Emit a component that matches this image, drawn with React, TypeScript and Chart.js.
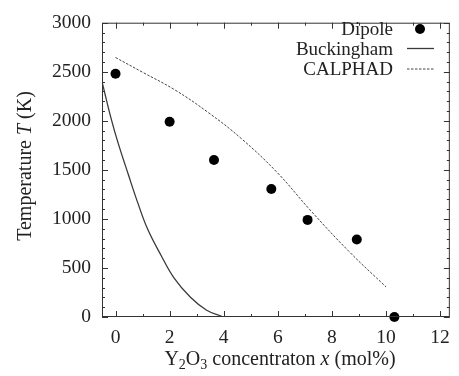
import React, { useEffect, useRef } from "react";
import { Chart, registerables } from "chart.js";

Chart.register(...registerables);

// Dipole (points)
const dipoleX = [0, 2, 3.64, 5.76, 7.1, 8.92, 10.31];
const dipoleT = [2480, 1990, 1600, 1305, 990, 790, 0];

// Buckingham (solid curve)
const buckX = [-0.5, -0.16, 0.1, 0.47, 0.83, 1.19, 1.68, 2.16, 2.77, 3.37, 3.98];
const buckT = [2400, 2020, 1770, 1455, 1158, 894, 630, 399, 201, 69, 0];

// CALPHAD (dashed curve)
const calX = [0, 1.0, 2.2, 3.44, 4.65, 5.98, 7.19, 8.65, 10.0];
const calT = [2645, 2495, 2314, 2082, 1819, 1472, 1092, 663, 307];

const xTicks = [0, 2, 4, 6, 8, 10, 12];
const yTicks = [0, 500, 1000, 1500, 2000, 2500, 3000];
const legendLabels = ["Dipole", "Buckingham", "CALPHAD"];

const FONT = "Liberation Serif";
const INK = "#222";
Chart.defaults.font.family = FONT;

const toPts = (xs: number[], ys: number[]) => xs.map((x, i) => ({ x, y: ys[i] }));

const framePlugin = {
  id: "frameDeco",
  afterDraw(chart: any) {
    const { ctx, chartArea: a, scales } = chart;
    const xs = scales.x;
    const ys = scales.y;
    ctx.save();
    ctx.strokeStyle = "#333";
    ctx.lineWidth = 1;
    ctx.strokeRect(a.left + 0.5, a.top + 0.5, a.right - a.left - 1, a.bottom - a.top - 1);
    ctx.beginPath();
    for (let v = 0; v <= 12; v += 1) {
      const px = Math.round(xs.getPixelForValue(v)) + 0.5;
      const len = v % 2 === 0 ? 6 : 3;
      ctx.moveTo(px, a.bottom);
      ctx.lineTo(px, a.bottom - len);
      ctx.moveTo(px, a.top);
      ctx.lineTo(px, a.top + len);
    }
    for (let v = 0; v <= 3000; v += 100) {
      const py = Math.round(ys.getPixelForValue(v)) + 0.5;
      const len = v % 500 === 0 ? 6 : 3;
      ctx.moveTo(a.left, py);
      ctx.lineTo(a.left + len, py);
      ctx.moveTo(a.right, py);
      ctx.lineTo(a.right - len, py);
    }
    ctx.stroke();

    // Y axis title
    ctx.fillStyle = INK;
    const yParts: [string, string][] = [
      ["Temperature ", "normal"],
      ["T", "italic"],
      [" (K)", "normal"],
    ];
    let total = 0;
    for (const [t, st] of yParts) {
      ctx.font = `${st} 20px ${FONT}`;
      total += ctx.measureText(t).width;
    }
    ctx.save();
    ctx.translate(31, 166);
    ctx.rotate(-Math.PI / 2);
    let cx = -total / 2;
    ctx.textAlign = "left";
    ctx.textBaseline = "alphabetic";
    for (const [t, st] of yParts) {
      ctx.font = `${st} 20px ${FONT}`;
      ctx.fillText(t, cx, 0);
      cx += ctx.measureText(t).width;
    }
    ctx.restore();

    // X axis title
    const xParts: [string, string, number, number][] = [
      ["Y", "normal", 20, 0],
      ["2", "normal", 14, 4],
      ["O", "normal", 20, 0],
      ["3", "normal", 14, 4],
      [" concentraton ", "normal", 20, 0],
      ["x", "italic", 20, 0],
      [" (mol%)", "normal", 20, 0],
    ];
    total = 0;
    for (const [t, st, sz] of xParts) {
      ctx.font = `${st} ${sz}px ${FONT}`;
      total += ctx.measureText(t).width;
    }
    cx = 280 - total / 2;
    ctx.textAlign = "left";
    ctx.textBaseline = "alphabetic";
    for (const [t, st, sz, dy] of xParts) {
      ctx.font = `${st} ${sz}px ${FONT}`;
      ctx.fillText(t, cx, 365 + dy);
      cx += ctx.measureText(t).width;
    }

    // Legend
    const textBase = [35, 54.5, 75];
    const symY = [29, 48.5, 69];
    ctx.font = `normal 19px ${FONT}`;
    ctx.textAlign = "right";
    ctx.textBaseline = "alphabetic";
    legendLabels.forEach((lab, i) => ctx.fillText(lab, 393, textBase[i]));
    ctx.fillStyle = "#000";
    ctx.beginPath();
    ctx.arc(420, symY[0], 5, 0, Math.PI * 2);
    ctx.fill();
    ctx.strokeStyle = "#3a3a3a";
    ctx.lineWidth = 1.3;
    ctx.beginPath();
    ctx.moveTo(407, symY[1]);
    ctx.lineTo(434, symY[1]);
    ctx.stroke();
    ctx.strokeStyle = "#444";
    ctx.lineWidth = 1;
    ctx.setLineDash([2.5, 1.5]);
    ctx.beginPath();
    ctx.moveTo(407, symY[2]);
    ctx.lineTo(434, symY[2]);
    ctx.stroke();
    ctx.restore();
  },
};

export default function App() {
  const ref = useRef<HTMLCanvasElement>(null);
  useEffect(() => {
    document.body.style.margin = "0";
    const chart = new Chart(ref.current as HTMLCanvasElement, {
      type: "scatter",
      data: {
        datasets: [
          {
            label: legendLabels[1],
            data: toPts(buckX, buckT),
            showLine: true,
            borderColor: "#3a3a3a",
            borderWidth: 1.3,
            pointRadius: 0,
            tension: 0.4,
            fill: false,
          },
          {
            label: legendLabels[2],
            data: toPts(calX, calT),
            showLine: true,
            borderColor: "#444",
            borderWidth: 1,
            borderDash: [2.5, 1.5],
            pointRadius: 0,
            tension: 0.4,
            fill: false,
          },
          {
            label: legendLabels[0],
            data: toPts(dipoleX, dipoleT),
            showLine: false,
            pointRadius: 5,
            pointBackgroundColor: "#000",
            pointBorderWidth: 0,
            clip: false,
          } as any,
        ],
      },
      options: {
        responsive: false,
        animation: false,
        layout: { padding: { top: 14, right: 3.5, left: 0, bottom: 0 } },
        plugins: { legend: { display: false }, tooltip: { enabled: false } },
        events: [],
        scales: {
          x: {
            type: "linear",
            min: -0.5,
            max: 12.36,
            grid: { display: false, drawTicks: false },
            border: { display: false },
            afterBuildTicks: (s: any) => {
              s.ticks = xTicks.map((v) => ({ value: v }));
            },
            afterFit: (s: any) => {
              s.height = 59;
            },
            ticks: {
              padding: 9,
              maxRotation: 0,
              autoSkip: false,
              color: INK,
              font: { family: FONT, size: 19.5 },
              callback: (v: any) => String(v),
            },
          },
          y: {
            type: "linear",
            min: 0,
            max: 3000,
            grid: { display: false, drawTicks: false },
            border: { display: false },
            afterBuildTicks: (s: any) => {
              s.ticks = yTicks.map((v) => ({ value: v }));
            },
            afterFit: (s: any) => {
              s.width = 102;
            },
            ticks: {
              padding: 11,
              autoSkip: false,
              color: INK,
              font: { family: FONT, size: 19.5 },
              callback: (v: any) => String(v),
            },
          },
        },
      },
      plugins: [framePlugin],
    } as any);
    return () => chart.destroy();
  }, []);
  return (
    <div style={{ width: 459, height: 376 }}>
      <canvas ref={ref} width={459} height={376} style={{ display: "block" }} />
    </div>
  );
}
